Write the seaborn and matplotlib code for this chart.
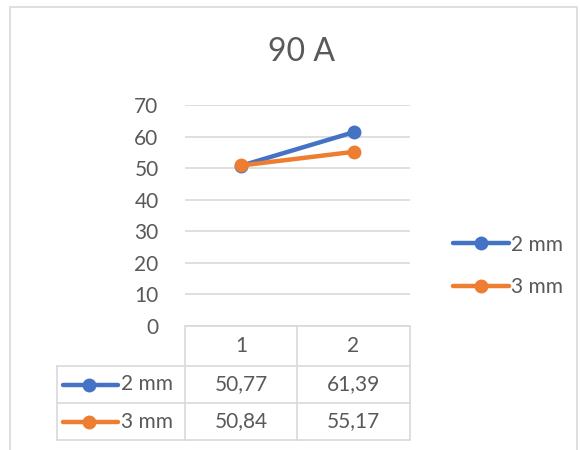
import pandas as pd
import seaborn as sns
import matplotlib.pyplot as plt
from matplotlib.lines import Line2D
from matplotlib.patches import Rectangle

categories = [1, 2]
series = ["2 mm", "3 mm"]
values_2mm = [50.77, 61.39]
values_3mm = [50.84, 55.17]
colors = ["#4472C4", "#ED7D31"]
title = "90 A"

W, H = 580, 450
TXT = "#595959"
GRID = "#D9D9D9"
FS = 15


def px(x, y):
    return x / W, 1 - y / H


df = pd.DataFrame({
    "cat": categories * 2,
    "val": values_2mm + values_3mm,
    "series": [series[0]] * 2 + [series[1]] * 2,
})

sns.set_style("white")
plt.rcParams["font.family"] = ["Lato", "DejaVu Sans"]

fig = plt.figure(figsize=(5.8, 4.5), dpi=100)
x0, y0 = px(185, 326)
x1, y1 = px(410, 105)
ax = fig.add_axes([x0, y0, x1 - x0, y1 - y0])

sns.lineplot(data=df, x="cat", y="val", hue="series", palette=colors,
             marker="o", markersize=10, markeredgewidth=0, linewidth=3.2,
             ax=ax, legend=False)

ax.set_xlim(0.5, 2.5)
ax.set_ylim(0, 70)
ax.set_yticks(range(0, 71, 10))
ax.set_xticks([])
ax.set_xlabel("")
ax.set_ylabel("")
for s in ax.spines.values():
    s.set_visible(False)
ax.grid(axis="y", color=GRID, linewidth=1.2)
ax.set_axisbelow(True)
ax.tick_params(axis="y", length=0, pad=19, labelsize=FS, labelcolor=TXT)

fig.text(*px(302, 52), title, ha="center", va="center", fontsize=23, color=TXT)

# chart border
bx, by = px(10, 455)
fig.patches.append(Rectangle((bx, by), (577 - 10) / W, (455 - 7) / H,
                             transform=fig.transFigure, fill=False,
                             edgecolor=GRID, linewidth=1.2))

# data table
def hline(xa, xb, y):
    fig.add_artist(Line2D([px(xa, y)[0], px(xb, y)[0]], [px(xa, y)[1]] * 2,
                          color=GRID, linewidth=1.2, transform=fig.transFigure))


def vline(x, ya, yb):
    fig.add_artist(Line2D([px(x, ya)[0]] * 2, [px(x, ya)[1], px(x, yb)[1]],
                          color=GRID, linewidth=1.2, transform=fig.transFigure))


cols = [57, 185, 297, 410]
rows = [326, 366, 403, 440]
hline(185, 410, rows[0])
for r in rows[1:]:
    hline(57, 410, r)
vline(57, rows[1], rows[3])
for c in cols[1:]:
    vline(c, rows[0], rows[3])

for j, cat in enumerate(categories):
    cx = (cols[j + 1] + cols[j + 2]) / 2
    fig.text(*px(cx, (rows[0] + rows[1]) / 2), str(cat), ha="center",
             va="center", fontsize=FS, color=TXT)

for i, (name, vals) in enumerate(zip(series, [values_2mm, values_3mm])):
    cy = (rows[i + 1] + rows[i + 2]) / 2
    fig.add_artist(Line2D([px(63, cy)[0], px(118, cy)[0]], [px(63, cy)[1]] * 2,
                          color=colors[i], linewidth=3.2,
                          transform=fig.transFigure))
    fig.add_artist(Line2D([px(89, cy)[0]], [px(89, cy)[1]], marker="o",
                          markersize=10, markeredgewidth=0, color=colors[i],
                          transform=fig.transFigure))
    fig.text(*px(121, cy), name, ha="left", va="center", fontsize=FS, color=TXT)
    for j, v in enumerate(vals):
        cx = (cols[j + 1] + cols[j + 2]) / 2
        fig.text(*px(cx, cy), f"{v:.2f}".replace(".", ","), ha="center",
                 va="center", fontsize=FS, color=TXT)

# legend
handles = [Line2D([], [], color=c, linewidth=3.2, marker="o", markersize=10,
                  markeredgewidth=0) for c in colors]
lx, ly = px(443, 266)
fig.legend(handles, series, loc="center left", bbox_to_anchor=(lx, ly),
           frameon=False, fontsize=FS, labelcolor=TXT, handlelength=2.65,
           handletextpad=0.12, labelspacing=1.1, borderpad=0)

fig.savefig("out.png", dpi=100)
